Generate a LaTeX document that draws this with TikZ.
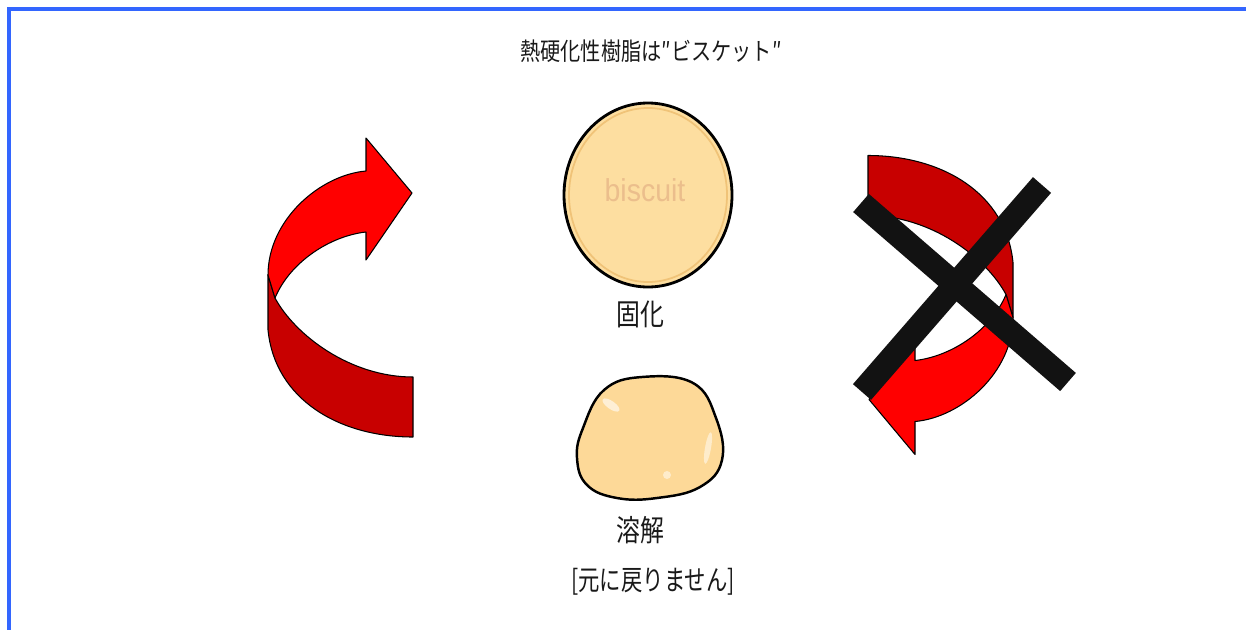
\documentclass[tikz,border=0pt]{standalone}
\usepackage{fontspec}
\setmainfont{Liberation Sans}
\newfontfamily\jp{Noto Sans CJK JP}

\definecolor{frameblue}{RGB}{51,102,255}
\definecolor{bandlight}{RGB}{255,0,0}
\definecolor{banddark}{RGB}{200,0,0}
\definecolor{dough}{RGB}{253,222,160}
\definecolor{crust}{RGB}{240,195,120}
\definecolor{printed}{RGB}{235,190,140}

% twisted ribbon arrow, tail at the bottom right, head at the top right
\newcommand{\twistarrow}{%
  \filldraw[darkband] (413,377) -- (413,437)
    .. controls (340,437) and (275,400) .. (268,330) -- (268,275)
    -- (275,298) .. controls (295,335) and (350,377) .. (413,377) -- cycle;
  \filldraw[lightband] (275,298) .. controls (290,262) and (330,236) .. (366,232)
    -- (366,260) -- (412,193) -- (366,138) -- (366,171)
    .. controls (320,175) and (268,220) .. (268,275) -- cycle;
}

\tikzset{
  darkband/.style={fill=banddark,draw=black,line width=0.6pt,line join=round},
  lightband/.style={fill=bandlight,draw=black,line width=0.6pt,line join=round},
  crossbar/.style={draw=black!93,line width=0.48cm},
  jtext/.style={inner sep=0pt,text=black!90,font=\jp}
}

\begin{document}
\begin{tikzpicture}[x=0.02cm,y=-0.02cm]
  \useasboundingbox (0,0) rectangle (1246,629);

  % frame
  \draw[frameblue,line width=2.3pt] (9,640) -- (9,9) -- (1260,9);

  % title
  \node[jtext] (title) at (651,51)
    {\fontsize{14}{16}\selectfont\scalebox{0.82}[1]{熱硬化性樹脂は″ビスケット″}};

  % the cured biscuit
  \filldraw[fill=dough,draw=black,line width=1.6pt] (648,195) ellipse (84 and 92);
  \draw[crust,line width=1pt] (648,195) ellipse (79 and 87);
  \node[inner sep=0pt,text=printed] (biscuit) at (645,190)
    {\fontsize{18}{20}\selectfont\scalebox{0.9}[1]{biscuit}};
  \node[jtext] (cured) at (640,314)
    {\fontsize{17}{19}\selectfont\scalebox{0.8}[1]{固化}};

  % the melted lump
  \filldraw[fill=dough!95!orange,draw=black,line width=1.4pt]
    plot[smooth cycle,tension=0.7] coordinates {(604,390) (642,377) (693,383)
      (716,418) (722,460) (700,487) (657,498) (617,498) (587,485) (577,458)
      (583,428)};
  \fill[white,opacity=0.6,rotate around={-35:(611,405)}] (611,405) ellipse (10 and 4);
  \fill[white,opacity=0.5,rotate around={80:(708,448)}] (708,448) ellipse (16 and 3);
  \fill[white,opacity=0.5] (667,475) circle (4);
  \node[jtext] (melted) at (640,530)
    {\fontsize{17}{19}\selectfont\scalebox{0.8}[1]{溶解}};
  \node[jtext] (noreturn) at (653,582)
    {\fontsize{16}{18}\selectfont\scalebox{0.76}[1]{[元に戻りません]}};

  % left arrow: it goes round
  \twistarrow

  % right arrow: the same one turned over, and crossed out
  \begin{scope}[rotate around={180:(640.5,296.25)}]
    \twistarrow
  \end{scope}
  \coordinate (x1a) at (861,203);
  \coordinate (x1b) at (1068,382);
  \coordinate (x2a) at (862,392);
  \coordinate (x2b) at (1042,185);
  \draw[crossbar] (x1a) -- (x1b);
  \draw[crossbar] (x2a) -- (x2b);
\end{tikzpicture}
\end{document}
